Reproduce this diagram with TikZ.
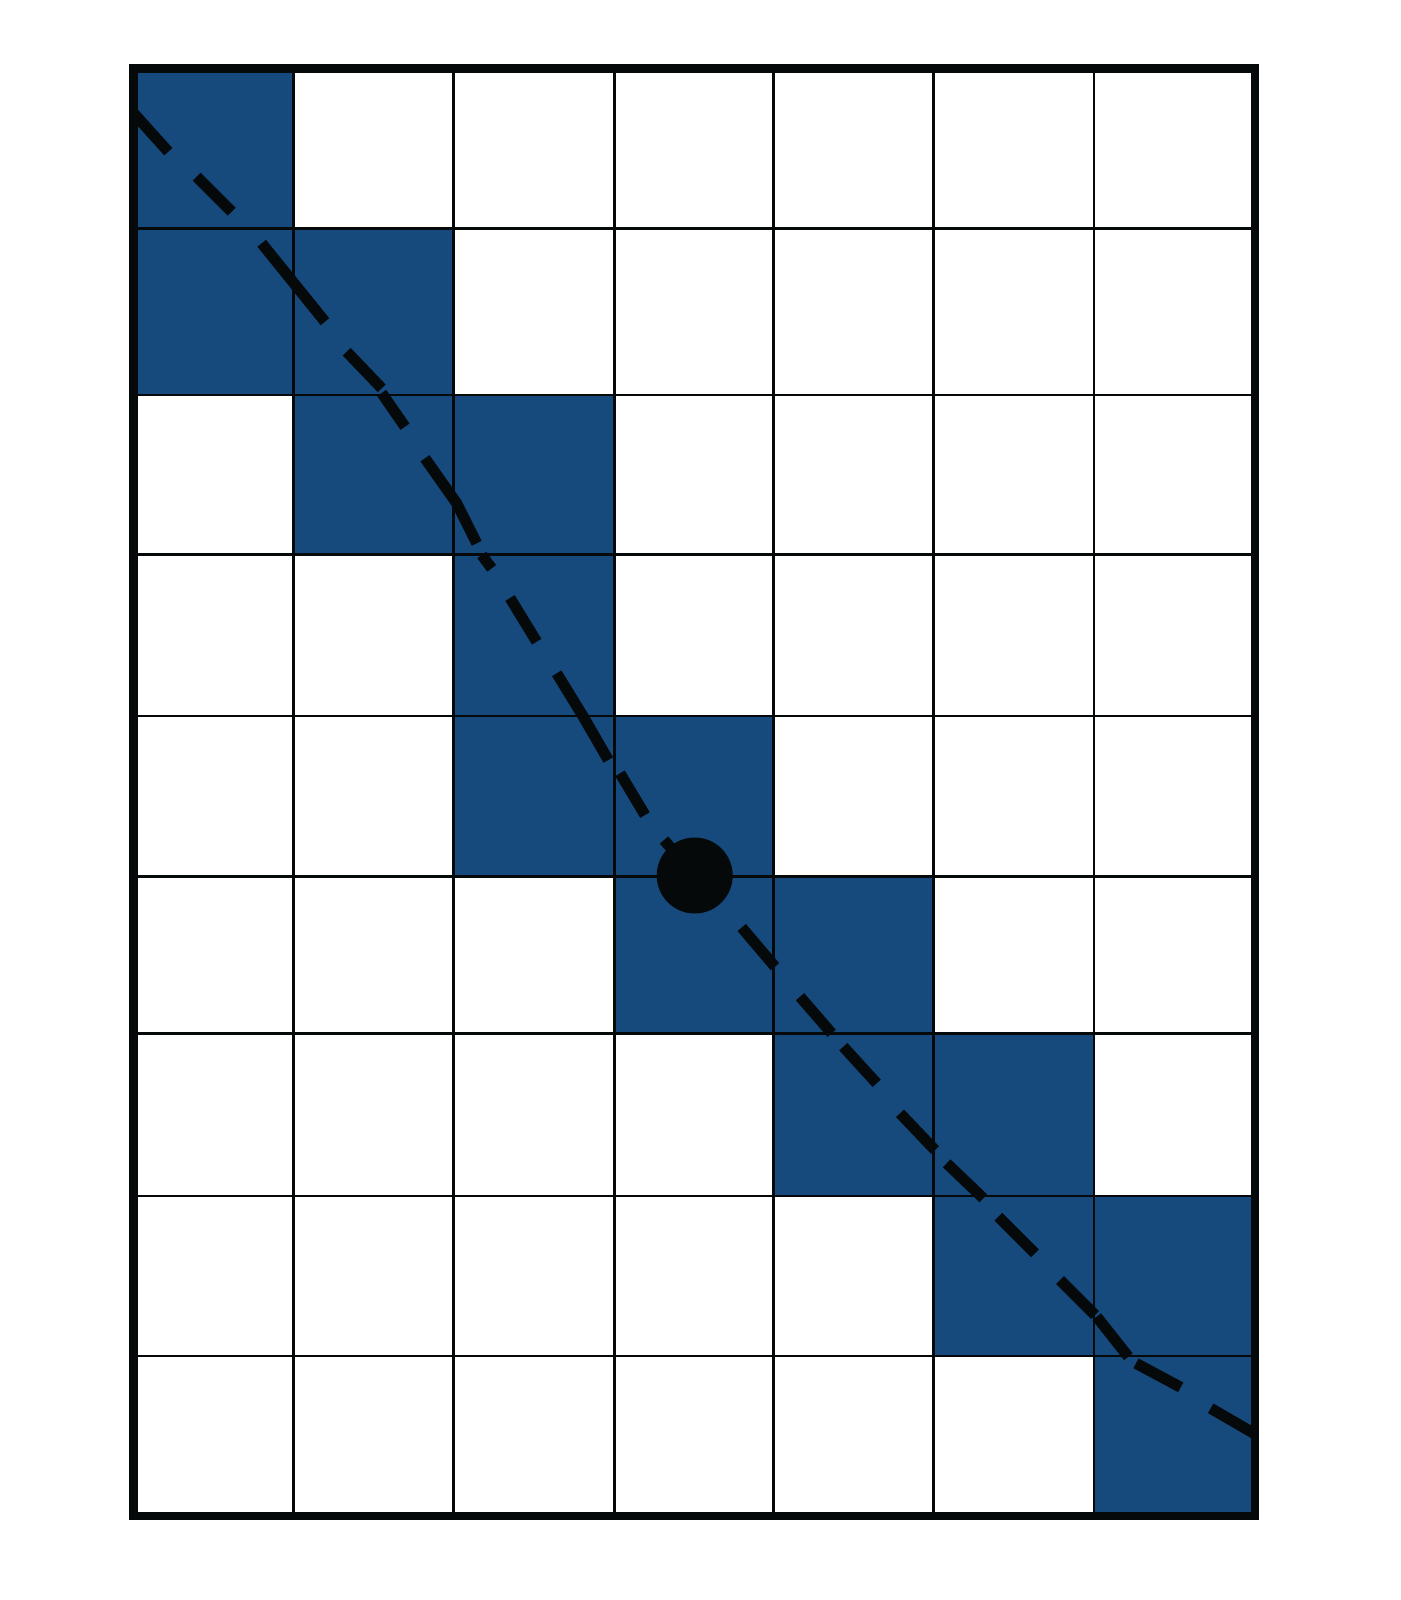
\documentclass[tikz,border=0pt]{standalone}
\definecolor{cellblue}{RGB}{22,73,124}
\definecolor{ink}{RGB}{5,9,10}
\begin{document}
\begin{tikzpicture}[x=1pt,y=-1pt,
  cellfill/.style={fill=cellblue},
  gridline/.style={draw=ink,line width=2.7pt},
  border/.style={draw=ink,line width=8.5pt},
  trail/.style={draw=ink,line width=11pt,line cap=butt,line join=miter},
  marker/.style={fill=ink}]
\useasboundingbox (0,0) rectangle (1400,1600);
\fill[white] (0,0) rectangle (1400,1600);
% shaded cells
\path[cellfill] (133.5,68.3) rectangle (293.3,228.3);
\path[cellfill] (133.5,228.3) rectangle (293.3,395);
\path[cellfill] (293.3,228.3) rectangle (453.3,395);
\path[cellfill] (293.3,395) rectangle (453.3,554.3);
\path[cellfill] (453.3,395) rectangle (614.3,554.3);
\path[cellfill] (453.3,554.3) rectangle (614.3,716);
\path[cellfill] (453.3,716) rectangle (614.3,876.3);
\path[cellfill] (614.3,716) rectangle (773.3,876.3);
\path[cellfill] (614.3,876.3) rectangle (773.3,1033.3);
\path[cellfill] (773.3,876.3) rectangle (933.3,1033.3);
\path[cellfill] (773.3,1033.3) rectangle (933.3,1196);
\path[cellfill] (933.3,1033.3) rectangle (1094,1196);
\path[cellfill] (933.3,1196) rectangle (1094,1356);
\path[cellfill] (1094,1196) rectangle (1255,1356);
\path[cellfill] (1094,1356) rectangle (1255,1516);
% grid lines
\foreach \gx in {293.3,453.3,614.3,773.3,933.3,1094}
  \draw[gridline] (\gx,68.3) -- (\gx,1516);
\foreach \gy in {228.3,395,554.3,716,876.3,1033.3,1196,1356}
  \draw[gridline] (133.5,\gy) -- (1255,\gy);
% dashed trail
\draw[trail]
  (133.5,113) -- (168.3,151.7)
  (196.7,176.7) -- (231.7,211.7)
  (261.7,243.3) -- (325,321.7)
  (346.7,351.7) -- (381.7,388.3)
  (381.7,393) -- (405,426.7)
  (425,458.3) -- (456.7,503.3) -- (476.7,543.3)
  (481.7,555) -- (491.7,568.3)
  (510,598) -- (536.7,641.7)
  (556.7,673.3) -- (583.3,716.7) -- (608.3,760)
  (620,773.3) -- (645,815)
  (664,840) -- (694.7,875.5)
  (741.7,927.5) -- (775,966.7)
  (800,996.7) -- (831.7,1033.3)
  (843.3,1046.7) -- (876.7,1083.3)
  (900,1113.3) -- (935,1150)
  (946.7,1163.3) -- (983.3,1198.3)
  (998.3,1216.7) -- (1035,1253.3)
  (1060,1280) -- (1095,1315)
  (1096.7,1316.7) -- (1128.3,1356.7)
  (1136,1363.3) -- (1180.7,1387.3)
  (1210.7,1408.3) -- (1255,1434);
% outer border
\draw[border] (133.5,68.3) rectangle (1255,1516);
% point
\fill[marker] (694.7,875.5) circle[radius=38];
\end{tikzpicture}
\end{document}
